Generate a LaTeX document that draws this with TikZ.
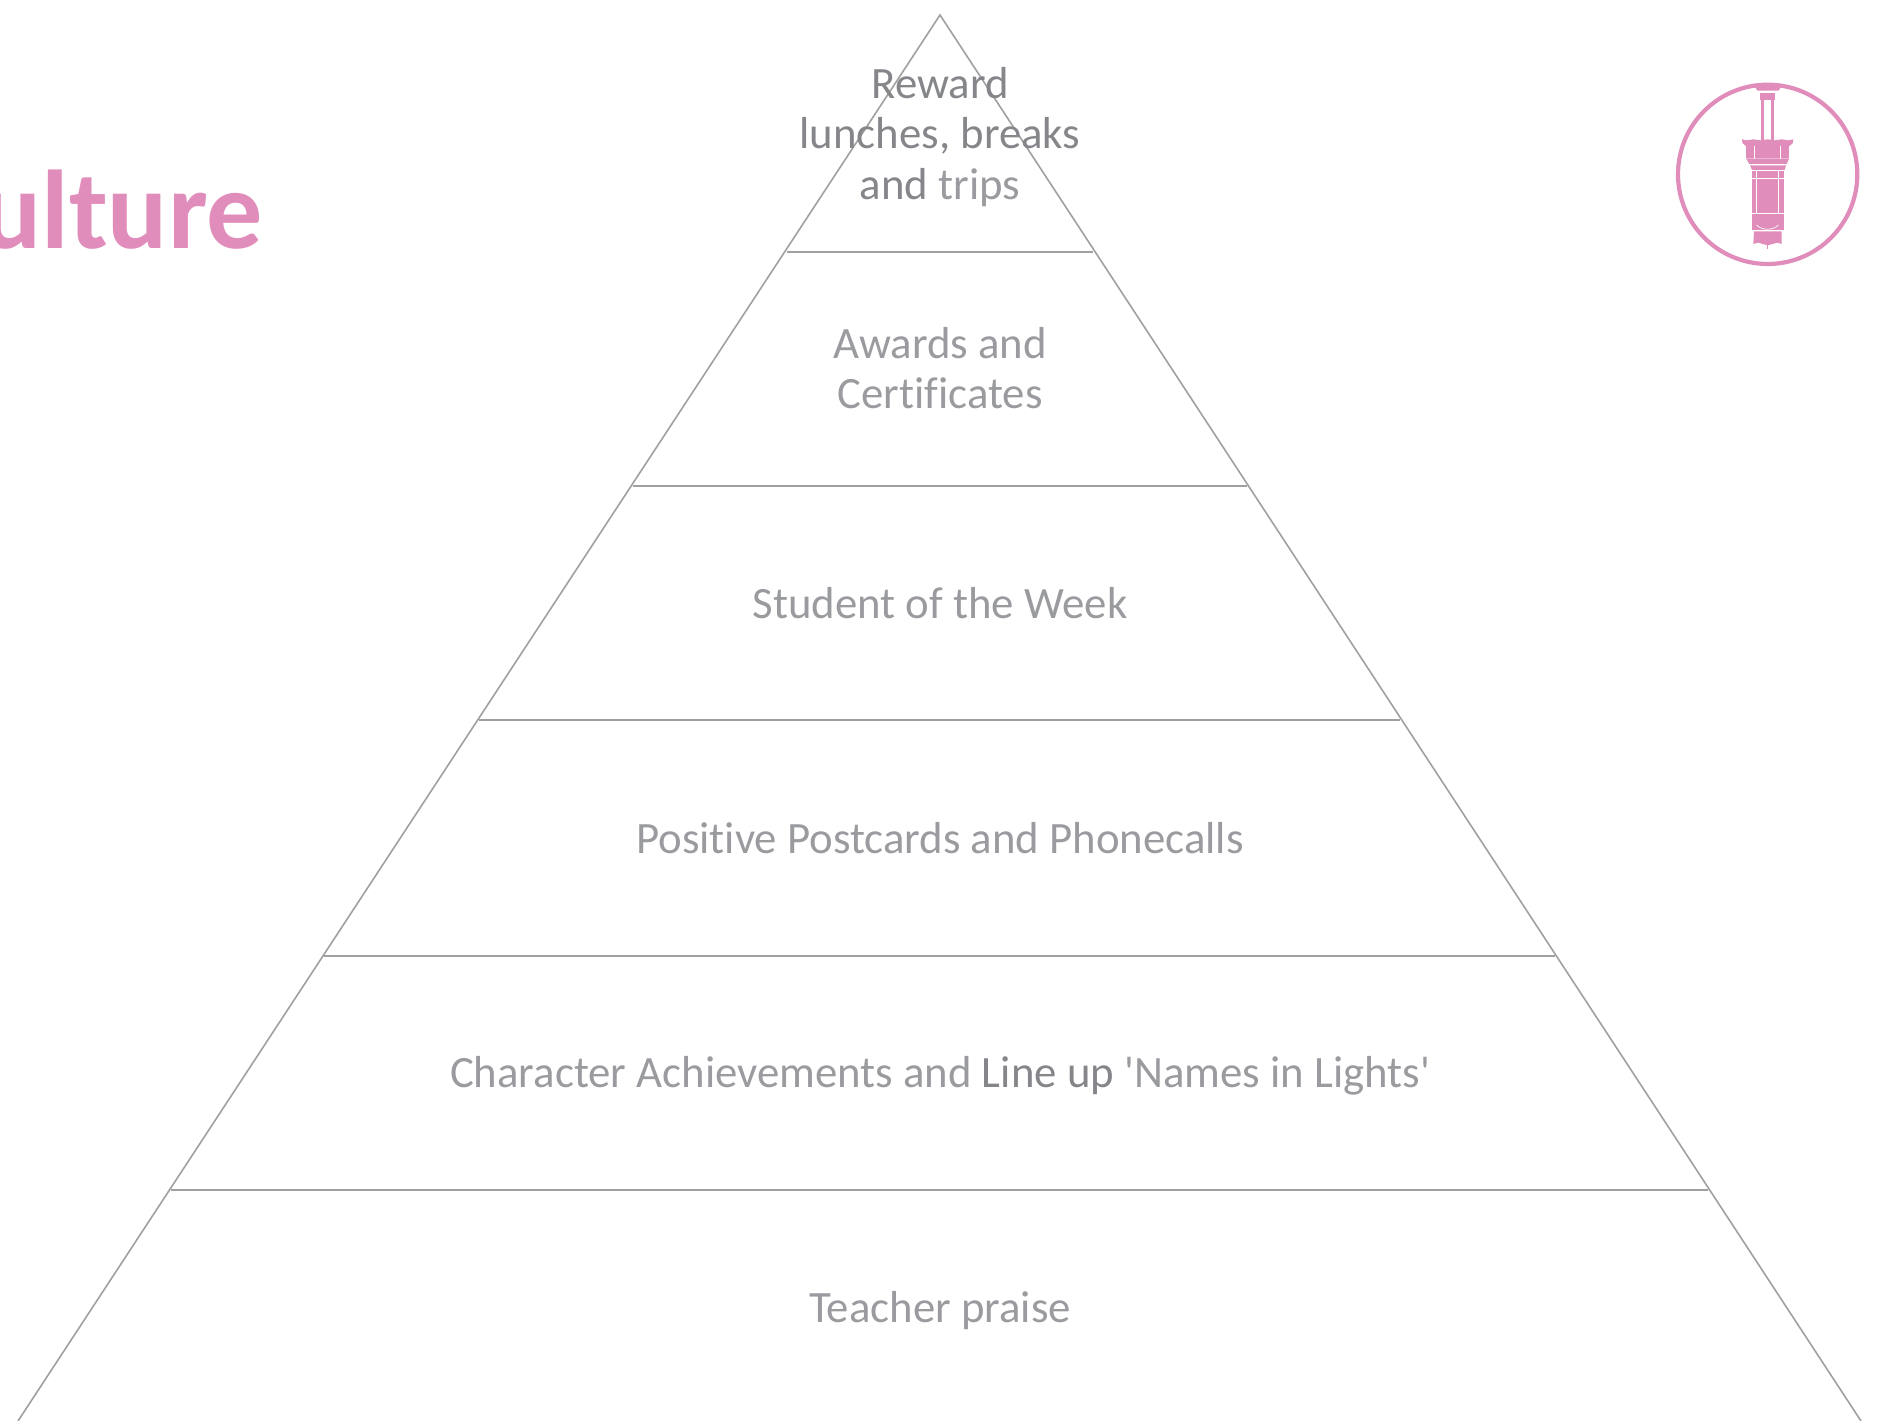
\documentclass[tikz,border=0pt]{standalone}
\usepackage{fontspec}
\newfontfamily\labelfont[Ligatures=NoCommon]{Carlito}
\newfontfamily\titlefont{Carlito}
\definecolor{txtdark}{HTML}{85868A}
\definecolor{txtlight}{HTML}{9A9B9F}
\definecolor{rule}{HTML}{A0A0A0}
\definecolor{pinkc}{HTML}{E18DBB}
\newcommand{\drk}[1]{\textcolor{txtdark}{#1}}
\tikzset{
  side/.style={draw=rule,line width=1.6pt},
  tier/.style={draw=rule,line width=2.4pt},
  label/.style={text=txtlight,font=\labelfont\fontsize{44.8}{50.5}\selectfont,align=center,inner sep=0pt,anchor=center},
  heading/.style={text=pinkc,font=\titlefont\fontsize{112}{120}\selectfont\bfseries,inner sep=0pt,anchor=base east},
  ink/.style={fill=pinkc,draw=none}
}
\begin{document}
\begin{tikzpicture}[x=1pt,y=-1pt]
\useasboundingbox (0,0) rectangle (1883,1421);
\coordinate (apex) at (940,15);
\coordinate (bl) at (18,1421);
\coordinate (br) at (1861,1421);
\coordinate (l1) at (787,252); \coordinate (r1) at (1093,252);
\coordinate (l2) at (633,486); \coordinate (r2) at (1247,486);
\coordinate (l3) at (479,720); \coordinate (r3) at (1400,720);
\coordinate (l4) at (324,956); \coordinate (r4) at (1555,956);
\coordinate (l5) at (171,1190); \coordinate (r5) at (1708,1190);
\draw[side] (bl) -- (apex) -- (br);
\draw[tier] (l1) -- (r1);
\draw[tier] (l2) -- (r2);
\draw[tier] (l3) -- (r3);
\draw[tier] (l4) -- (r4);
\draw[tier] (l5) -- (r5);
\node[label] (t6) at (940,137) {\drk{Reward}\\\drk{lunches, breaks}\\\drk{and} trips};
\node[label] (t5) at (940,368) {Awards and\\Certificates};
\node[label] (t4) at (940,603) {Student of the Week};
\node[label] (t3) at (940,838) {Positive Postcards and Phonecalls};
\node[label] (t2) at (940,1076) {Character Achievements and \drk{Line up} 'Names in Lights'};
\node[label] (t1) at (940,1311) {Teacher praise};
\node[heading] (title) at (263,248) {ulture};
% emblem
\begin{scope}[shift={(1640,60)},x=0.3333pt,y=-0.3333pt]
\draw[draw=pinkc,line width=4.2pt] (383,343) circle [radius=269];
\fill[ink] (340,72) -- (428,72) -- (416,92) -- (352,92) -- cycle;
\fill[ink] (360,100) rectangle (406,120);
\fill[ink] (364,120) rectangle (373,240);
\fill[ink] (393,120) rectangle (402,240);
\fill[ink] (305,238) -- (320,241) -- (340,238) -- (360,241) -- (383,238) -- (405,241) -- (425,238) -- (445,241) -- (460,238) -- (458,250) -- (448,258) -- (318,258) -- (308,250) -- cycle;
\fill[ink] (318,258) rectangle (448,295);
\fill[ink] (318,295) -- (448,295) -- (440,312) -- (328,312) -- cycle;
\fill[ink] (330,316) -- (438,316) -- (434,330) -- (336,330) -- cycle;
\fill[ink] (335,334) rectangle (432,510);
\fill[ink] (342,514) -- (425,514) -- (425,552) -- (412,548) -- (398,552) -- (383,556) -- (368,552) -- (355,548) -- (340,552) -- cycle;
\fill[ink] (381,556) rectangle (385,566);
\draw[white,line width=0.9pt] (342,258) -- (342,296);
\draw[white,line width=0.9pt] (422,258) -- (422,296);
\draw[white,line width=0.8pt] (335,356) -- (432,356);
\draw[white,line width=0.8pt] (350,334) -- (350,458);
\draw[white,line width=0.8pt] (415,334) -- (415,458);
\draw[white,line width=0.8pt] (335,460) -- (432,460);
\draw[white,line width=0.7pt] (350,495) .. controls (365,512) and (400,512) .. (415,495);
\end{scope}
\end{tikzpicture}
\end{document}
